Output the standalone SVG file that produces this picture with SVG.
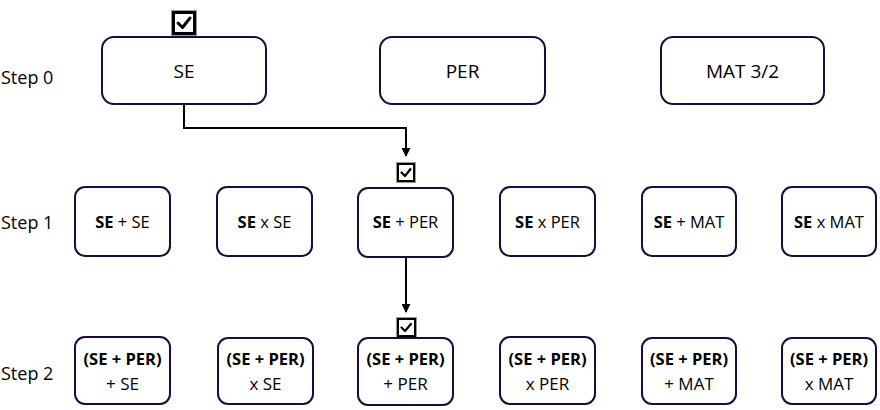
<svg xmlns="http://www.w3.org/2000/svg" width="880" height="410" viewBox="0 0 880 410">
<style>
.box{fill:#fff;stroke:#1e0a3c;stroke-width:2}
.t{font-family:"Open Sans","Noto Sans",sans-serif;fill:#000;text-anchor:middle}
.s0{font-size:19px}
.s1{font-size:16.5px}
.s2{font-size:17px}
.lbl{font-family:"Open Sans","Noto Sans",sans-serif;font-size:18px;fill:#000}
.b{font-weight:bold}
.conn{fill:none;stroke:#000;stroke-width:2}
.cbo{fill:#fff;stroke:#999;stroke-width:1}
.cb{fill:#fff;stroke:#000}
.ck{fill:none;stroke:#000;stroke-linecap:round;stroke-linejoin:round}
</style>
<defs>
<marker id="arr" viewBox="0 0 10 10" refX="9" refY="5" markerWidth="4.5" markerHeight="4.5" orient="auto" markerUnits="strokeWidth">
<path d="M0,0 L10,5 L0,10 z" fill="#000"/>
</marker>
</defs>
<text class="lbl" x="1" y="84">Step 0</text>
<text class="lbl" x="1" y="229">Step 1</text>
<text class="lbl" x="1" y="380">Step 2</text>
<g id="connectors">
<path class="conn" d="M184,104 V128 H406 V156" marker-end="url(#arr)"/>
<path class="conn" d="M406,257 V312" marker-end="url(#arr)"/>
</g>
<g id="check0">
<rect class="cbo" x="171.5" y="10.5" width="25" height="25"/>
<rect class="cb" x="173.5" y="12.5" width="21" height="21" stroke-width="3"/>
<path class="ck" d="M178,23 L182.5,27.5 L190,18" stroke-width="3"/>
</g>
<g id="check1">
<rect class="cbo" x="396.5" y="162.5" width="19" height="20"/>
<rect class="cb" x="398" y="164" width="16" height="17" stroke-width="2"/>
<path class="ck" d="M401.5,172.5 L405,176 L410.5,169" stroke-width="2.2"/>
</g>
<g id="check2">
<rect class="cbo" x="396.5" y="317.5" width="20" height="20"/>
<rect class="cb" x="398" y="319" width="17" height="17" stroke-width="2"/>
<path class="ck" d="M401.5,327.5 L405,331 L411,324" stroke-width="2.2"/>
</g>
<g id="n-se"><rect class="box" x="102" y="37" width="164" height="67" rx="12"/><text class="t s0" x="184" y="78">SE</text></g>
<g id="n-per"><rect class="box" x="380" y="37" width="165" height="67" rx="12"/><text class="t s0" x="462.5" y="78">PER</text></g>
<g id="n-mat"><rect class="box" x="661" y="37" width="163" height="67" rx="12"/><text class="t s0" x="742.5" y="78">MAT 3/2</text></g>

<g id="n1-1"><rect class="box" x="75" y="187" width="95" height="69" rx="10"/><text class="t s1" x="122.5" y="228"><tspan class="b">SE</tspan> + SE</text></g>
<g id="n1-2"><rect class="box" x="217" y="187" width="95" height="69" rx="10"/><text class="t s1" x="264.5" y="228"><tspan class="b">SE</tspan> x SE</text></g>
<g id="n1-3"><rect class="box" x="358" y="188" width="95" height="69" rx="10"/><text class="t s1" x="405.5" y="228"><tspan class="b">SE</tspan> + PER</text></g>
<g id="n1-4"><rect class="box" x="500" y="187" width="95" height="69" rx="10"/><text class="t s1" x="547.5" y="228"><tspan class="b">SE</tspan> x PER</text></g>
<g id="n1-5"><rect class="box" x="642" y="187" width="94" height="69" rx="10"/><text class="t s1" x="689" y="228"><tspan class="b">SE</tspan> + MAT</text></g>
<g id="n1-6"><rect class="box" x="782" y="187" width="94" height="69" rx="10"/><text class="t s1" x="829" y="228"><tspan class="b">SE</tspan> x MAT</text></g>

<g id="n2-1"><rect class="box" x="75" y="337" width="95" height="67" rx="10"/><text class="t s1 b" x="122.5" y="365">(SE + PER)</text><text class="t s2" x="122.5" y="390">+ SE</text></g>
<g id="n2-2"><rect class="box" x="218" y="338" width="95" height="66" rx="10"/><text class="t s1 b" x="265.5" y="365">(SE + PER)</text><text class="t s2" x="265.5" y="390">x SE</text></g>
<g id="n2-3"><rect class="box" x="358" y="338" width="95" height="67" rx="10"/><text class="t s1 b" x="405.5" y="365">(SE + PER)</text><text class="t s2" x="405.5" y="390">+ PER</text></g>
<g id="n2-4"><rect class="box" x="500" y="337" width="95" height="67" rx="10"/><text class="t s1 b" x="547.5" y="365">(SE + PER)</text><text class="t s2" x="547.5" y="390">x PER</text></g>
<g id="n2-5"><rect class="box" x="642" y="338" width="94" height="66" rx="10"/><text class="t s1 b" x="689" y="365">(SE + PER)</text><text class="t s2" x="689" y="390">+ MAT</text></g>
<g id="n2-6"><rect class="box" x="782" y="338" width="94" height="66" rx="10"/><text class="t s1 b" x="829" y="365">(SE + PER)</text><text class="t s2" x="829" y="390">x MAT</text></g>
</svg>
